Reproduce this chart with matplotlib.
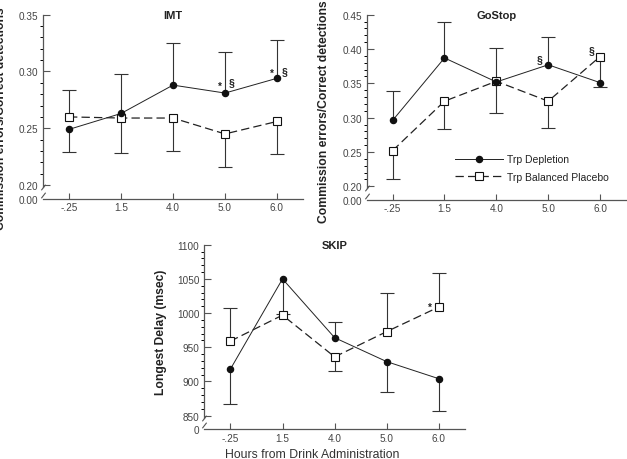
import numpy as np
import matplotlib
matplotlib.use('Agg')
import matplotlib.pyplot as plt
from matplotlib.ticker import FixedLocator

plt.rcParams['font.family'] = ['Liberation Sans', 'DejaVu Sans']
plt.rcParams['lines.scale_dashes'] = False

# ── data ────────────────────────────────────────────────
hours = ['-.25', '1.5', '4.0', '5.0', '6.0']

imt_dep = [0.249, 0.263, 0.288, 0.281, 0.294]
imt_plc = [0.260, 0.259, 0.259, 0.245, 0.256]
imt_dep_lo = [0.020, 0, 0, 0, 0]
imt_dep_hi = [0, 0.035, 0.037, 0.036, 0.034]
imt_plc_lo = [0, 0.031, 0.029, 0.029, 0.029]
imt_plc_hi = [0.024, 0, 0, 0, 0]

gostop_dep = [0.296, 0.387, 0.352, 0.377, 0.351]
gostop_plc = [0.252, 0.324, 0.353, 0.324, 0.389]
gostop_dep_lo = [0, 0, 0, 0, 0]
gostop_dep_hi = [0.043, 0.052, 0.050, 0.041, 0]
gostop_plc_lo = [0.041, 0.041, 0.046, 0.039, 0.045]
gostop_plc_hi = [0, 0, 0, 0, 0]

skip_dep = [918, 1050, 964, 929, 904]
skip_plc = [959, 997, 936, 973, 1009]
skip_dep_lo = [51, 52, 0, 45, 47]
skip_dep_hi = [0, 0, 23, 0, 0]
skip_plc_lo = [0, 0, 20, 0, 0]
skip_plc_hi = [48, 0, 0, 56, 50]

# significance marks: (series, index, symbol, dx pt, dy pt)
imt_marks = [('dep', 3, '*', -4, 5), ('dep', 3, '§', 4.5, 8),
             ('dep', 4, '*', -4, 4), ('dep', 4, '§', 5.5, 5)]
gostop_marks = [('dep', 3, '§', -6, 4), ('plc', 4, '§', -6, 5)]
skip_marks = [('plc', 4, '*', -6.5, 0)]

SPINE = '#555555'
TICKC = '#444444'

fig = plt.figure(figsize=(6.27, 4.60), dpi=100)
W, H = 627, 460


def px_axes(l, r, top, bot):
    return fig.add_axes([l / W, 1 - bot / H, (r - l) / W, (bot - top) / H])


def panel(ax, dep, plc, dep_lo, dep_hi, plc_lo, plc_hi, ymin_fake, ylo, ytop,
          step, minor, fmt, zero_lab, title, marks):
    x = np.arange(len(hours))
    dep, plc = np.array(dep, float), np.array(plc, float)

    # one-sided error bars
    for y, lo, hi in ((dep, dep_lo, dep_hi), (plc, plc_lo, plc_hi)):
        lo, hi = np.array(lo, float), np.array(hi, float)
        for m, ends in ((hi > 0, y + hi), (lo > 0, y - lo)):
            ax.vlines(x[m], y[m], ends[m], color='#333333', lw=0.8, zorder=2)
            ax.plot(x[m], ends[m], ls='none', marker='_', ms=10,
                    mew=0.8, color='#333333', zorder=2)

    ax.plot(x, plc, color='#222222', lw=0.9, dashes=(6, 3),
            marker='s', ms=5.3, mfc='white', mec='#111111', mew=0.8,
            zorder=3, label='Trp Balanced Placebo')
    ax.plot(x, dep, color='#222222', lw=0.7,
            marker='o', ms=4.4, mfc='#111111', mec='#111111',
            zorder=4, label='Trp Depletion')

    ax.set_xlim(-0.5, len(hours) - 0.5)
    ax.set_ylim(ymin_fake, ytop)
    ax.set_xticks(x)
    ax.set_xticklabels(hours)

    majors = list(np.arange(ylo, ytop + step / 2, step))
    ax.yaxis.set_major_locator(FixedLocator([ymin_fake] + majors))
    ax.set_yticklabels([zero_lab] + [fmt.format(v) for v in majors])
    ax.yaxis.set_minor_locator(FixedLocator(
        [v for v in np.arange(ylo, ytop, minor) if all(abs(v - mj) > minor / 2 for mj in majors)]))

    for s in ('top', 'right'):
        ax.spines[s].set_visible(False)
    for s in ('left', 'bottom'):
        ax.spines[s].set_color(SPINE)
        ax.spines[s].set_linewidth(0.9)

    # axis break
    hpx = ax.get_window_extent().height
    ppx = (ytop - ymin_fake) / hpx
    ax.spines['left'].set_bounds(ylo - 2 * ppx, ytop)
    brk = [(-1, -1.3), (1, 1.3)]
    ax.plot([-0.5], [ylo - 2 * ppx], marker=brk, ms=4, mew=0.8, color=SPINE,
            clip_on=False, zorder=5)
    ax.plot([-0.5], [ymin_fake + 4 * ppx], marker=brk, ms=4, mew=0.8, color=SPINE,
            clip_on=False, zorder=5)

    ax.tick_params(axis='both', direction='in', color=SPINE, labelcolor=TICKC,
                   labelsize=7.2, width=0.8)
    ax.tick_params(axis='y', which='major', length=5, pad=3.5)
    ax.tick_params(axis='y', which='minor', length=2.5, width=0.7)
    ax.tick_params(axis='x', length=4, pad=2.5)
    ax.yaxis.get_major_ticks()[0].tick1line.set_visible(False)
    ax.set_facecolor('none')

    ax.text(0.5, 1.0, title, transform=ax.transAxes, ha='center', va='center',
            fontsize=8, fontweight='bold', color='#222222')

    for ser, i, sym, dx, dy in marks:
        yy = dep[i] if ser == 'dep' else plc[i]
        ax.annotate(sym, (x[i], yy), xytext=(dx, dy), textcoords='offset points',
                    ha='center', va='center', fontsize=7.5 if sym == '§' else 7,
                    fontweight='bold', color='#222222')


ax1 = px_axes(43, 303, 15.7, 200)
panel(ax1, imt_dep, imt_plc, imt_dep_lo, imt_dep_hi, imt_plc_lo, imt_plc_hi,
      0.1877, 0.20, 0.35, 0.05, 0.01, '{:.2f}', '0.00', 'IMT', imt_marks)
ax1.set_ylabel('Commission errors/Correct detections', fontsize=8.7,
               fontweight='bold', color='#222222')
ax1.yaxis.set_label_coords((6.5 - 43) / 260, 0.44)

ax2 = px_axes(366.7, 626, 15.7, 201)
panel(ax2, gostop_dep, gostop_plc, gostop_dep_lo, gostop_dep_hi, gostop_plc_lo,
      gostop_plc_hi, 0.180, 0.20, 0.45, 0.05, 0.01, '{:.2f}', '0.00', 'GoStop',
      gostop_marks)
ax2.set_ylabel('Commission errors/Correct detections', fontsize=8.7,
               fontweight='bold', color='#222222')
ax2.yaxis.set_label_coords((330 - 366.7) / 259.3, 0.48)

h, l = ax2.get_legend_handles_labels()
ax2.legend(h[::-1], l[::-1], loc='center left', frameon=False, fontsize=7.5,
           bbox_to_anchor=(455 / W, 1 - 169.2 / H), bbox_transform=fig.transFigure,
           borderpad=0, borderaxespad=0, handlelength=4.6, handletextpad=0.35,
           labelspacing=0.75, labelcolor='#222222')

ax3 = px_axes(204.3, 465, 245.7, 430.3)
panel(ax3, skip_dep, skip_plc, skip_dep_lo, skip_dep_hi, skip_plc_lo, skip_plc_hi,
      830.1, 850, 1100, 50, 10, '{:.0f}', '0', 'SKIP', skip_marks)
ax3.set_ylabel('Longest Delay (msec)', fontsize=8.7, fontweight='bold',
               color='#222222')
ax3.yaxis.set_label_coords((167 - 204.3) / 260.7, 0.53)

fig.text(312 / W, 1 - 455 / H, 'Hours from Drink Administration', ha='center',
         va='center', fontsize=8.8, color='#333333')

fig.savefig('out.png', dpi=100, facecolor='white')
